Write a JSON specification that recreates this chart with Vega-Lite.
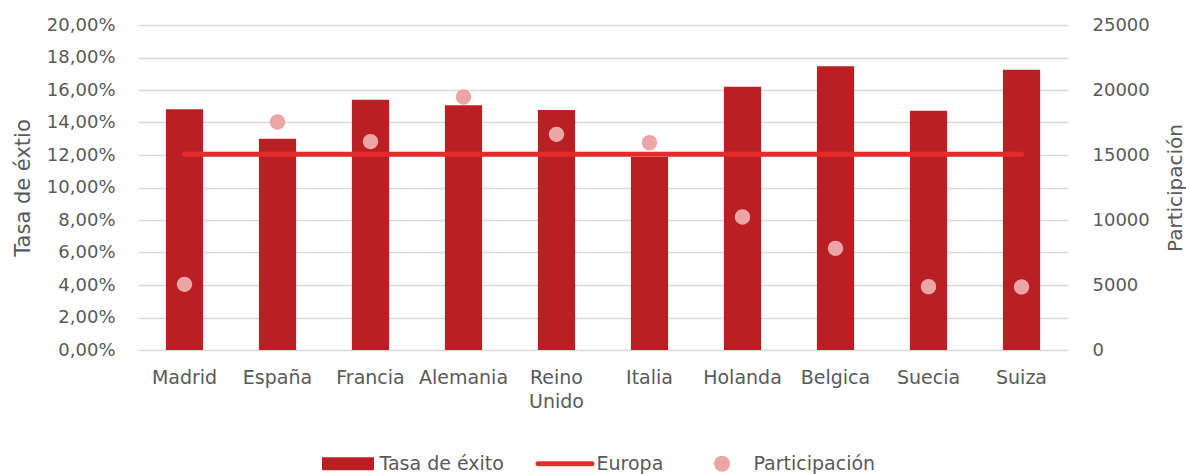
{
  "$schema": "https://vega.github.io/schema/vega-lite/v6.json",
  "width": 930,
  "height": 325,
  "autosize": "none",
  "padding": {"left": 138, "top": 25, "right": 118, "bottom": 124},
  "background": "white",
  "config": {
    "view": {"stroke": null},
    "font": "DejaVu Sans",
    "axis": {
      "labelFont": "DejaVu Sans",
      "labelFontSize": 18,
      "labelColor": "#595959",
      "titleFont": "DejaVu Sans",
      "titleFontSize": 21,
      "titleFontWeight": "normal",
      "titleColor": "#595959",
      "domain": false,
      "ticks": false,
      "labelOverlap": false
    }
  },
  "data": {
    "values": [
      {"pais": "Madrid", "tasa": 0.1481, "europa": 0.1204, "participacion": 5050},
      {"pais": "España", "tasa": 0.1300, "europa": 0.1204, "participacion": 17540},
      {"pais": "Francia", "tasa": 0.1540, "europa": 0.1204, "participacion": 16030},
      {"pais": "Alemania", "tasa": 0.1506, "europa": 0.1204, "participacion": 19460},
      {"pais": "Reino Unido", "tasa": 0.1477, "europa": 0.1204, "participacion": 16590},
      {"pais": "Italia", "tasa": 0.1188, "europa": 0.1204, "participacion": 15950},
      {"pais": "Holanda", "tasa": 0.1620, "europa": 0.1204, "participacion": 10230},
      {"pais": "Belgica", "tasa": 0.1746, "europa": 0.1204, "participacion": 7820},
      {"pais": "Suecia", "tasa": 0.1473, "europa": 0.1204, "participacion": 4870},
      {"pais": "Suiza", "tasa": 0.1725, "europa": 0.1204, "participacion": 4850}
    ]
  },
  "encoding": {
    "x": {
      "field": "pais",
      "type": "nominal",
      "sort": null,
      "scale": {"paddingInner": 0.6, "paddingOuter": 0.3},
      "axis": {
        "title": null,
        "labelAngle": 0,
        "labelAlign": "center",
        "labelBaseline": "top",
        "labelFontSize": 19,
        "labelPadding": 18,
        "labelLineHeight": 24,
        "labelExpr": "datum.value == 'Reino Unido' ? ['Reino', 'Unido'] : datum.value"
      }
    }
  },
  "layer": [
    {
      "layer": [
        {
          "mark": {"type": "bar", "color": "#BA2023"},
          "encoding": {
            "y": {
              "field": "tasa",
              "type": "quantitative",
              "scale": {"domain": [0, 0.2]},
              "axis": {
                "title": "Tasa de éxtio",
                "values": [0, 0.02, 0.04, 0.06, 0.08, 0.1, 0.12, 0.14, 0.16, 0.18, 0.2],
                "tickCount": 11,
                "labelExpr": "replace(format(datum.value, '.2%'), '.', ',')",
                "labelOverlap": false,
                "labelFlush": false,
                "labelPadding": 23,
                "grid": true,
                "gridColor": "#D9D9D9",
                "gridWidth": 1.5,
                "titleX": -115,
                "titleY": 162.5,
                "titleAngle": -90,
                "titleBaseline": "middle",
                "titleAlign": "center"
              }
            }
          }
        },
        {
          "mark": {"type": "line", "color": "#E32B2B", "strokeWidth": 5, "strokeCap": "round"},
          "encoding": {
            "y": {
              "field": "europa",
              "type": "quantitative",
              "axis": {
                "title": "Tasa de éxtio",
                "values": [0, 0.02, 0.04, 0.06, 0.08, 0.1, 0.12, 0.14, 0.16, 0.18, 0.2],
                "tickCount": 11,
                "labelExpr": "replace(format(datum.value, '.2%'), '.', ',')",
                "labelOverlap": false,
                "labelFlush": false,
                "labelPadding": 23,
                "grid": true,
                "gridColor": "#D9D9D9",
                "gridWidth": 1.5,
                "titleX": -115,
                "titleY": 162.5,
                "titleAngle": -90,
                "titleBaseline": "middle",
                "titleAlign": "center"
              }
            }
          }
        }
      ]
    },
    {
      "mark": {"type": "point", "filled": true, "opacity": 1, "size": 2985, "strokeWidth": 0},
      "encoding": {
        "y": {
          "field": "participacion",
          "type": "quantitative",
          "scale": {"domain": [0, 25000]},
          "axis": {
            "orient": "right",
            "title": "Participación",
            "values": [0, 5000, 10000, 15000, 20000, 25000],
            "format": "d",
            "labelOverlap": false,
            "labelFlush": false,
            "labelPadding": 24,
            "grid": false,
            "titleFontSize": 20,
            "titleX": 107,
            "titleY": 162.5,
            "titleAngle": -90,
            "titleBaseline": "middle",
            "titleAlign": "center"
          }
        },
        "color": {
          "datum": "Participación",
          "type": "nominal",
          "scale": {
            "domain": ["Tasa de éxito", "Europa", "Participación"],
            "range": ["#BA2023", "#E32B2B", "#EBA5A5"]
          },
          "legend": {
            "title": null,
            "orient": "none",
            "legendX": 181.5,
            "legendY": 410,
            "direction": "horizontal",
            "padding": 0,
            "symbolSize": 3249,
            "symbolStrokeWidth": 0,
            "labelOffset": 3,
            "columnPadding": 30,
            "labelFont": "DejaVu Sans",
            "labelFontSize": 19,
            "labelColor": "#595959"
          }
        },
        "shape": {
          "datum": "Participación",
          "type": "nominal",
          "scale": {
            "domain": ["Tasa de éxito", "Europa", "Participación"],
            "range": [
              "M-0.912,-0.228H0.912V0.228H-0.912Z",
              "M-0.95,-0.088H0.95A0.088,0.088 0 0,1 0.95,0.088H-0.95A0.088,0.088 0 0,1 -0.95,-0.088Z",
              "M-0.28,0A0.28,0.28 0 1,1 0.28,0A0.28,0.28 0 1,1 -0.28,0Z"
            ]
          },
          "legend": {
            "title": null,
            "orient": "none",
            "legendX": 181.5,
            "legendY": 410,
            "direction": "horizontal",
            "padding": 0,
            "symbolSize": 3249,
            "symbolStrokeWidth": 0,
            "labelOffset": 3,
            "columnPadding": 30,
            "labelFont": "DejaVu Sans",
            "labelFontSize": 19,
            "labelColor": "#595959"
          }
        }
      }
    }
  ],
  "resolve": {"scale": {"y": "independent"}}
}
